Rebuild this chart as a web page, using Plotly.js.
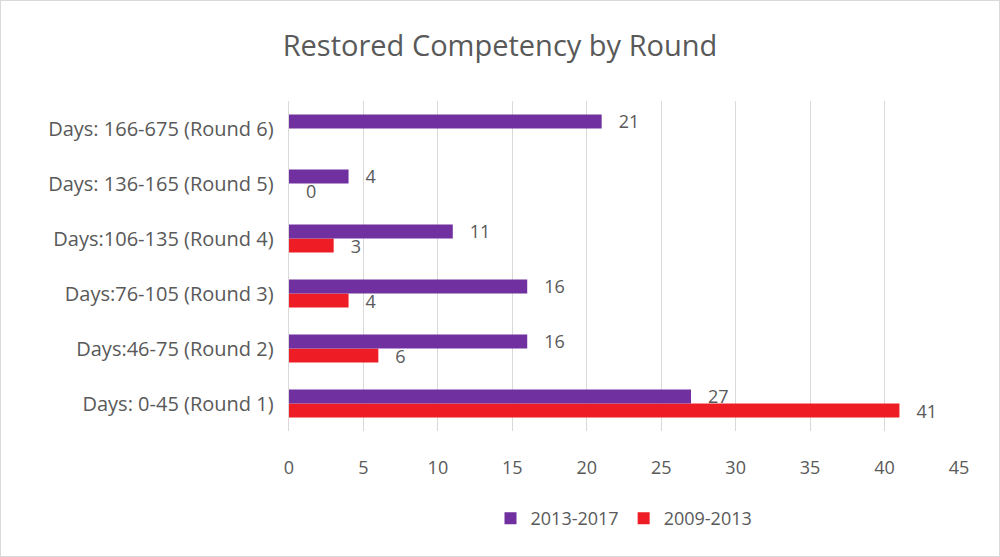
<!DOCTYPE html>
<html><head><script src="https://cdn.plot.ly/plotly-3.0.1.min.js"></script>
<style>body{margin:0}#c{width:998px;height:555px;border:1px solid #D9D9D9}</style></head>
<body><div id="c"></div>
<script>
const categories = ["Days: 0-45 (Round 1)","Days:46-75 (Round 2)","Days:76-105 (Round 3)","Days:106-135 (Round 4)","Days: 136-165 (Round 5)","Days: 166-675 (Round 6)"];
const series2013 = [27,16,16,11,4,21];
const series2009 = [41,6,4,3,0,null];
const txt = a => a.map(v => v === null ? "" : "   " + v);
const f = {family:"Open Sans, sans-serif", color:"#595959"};
Plotly.newPlot("c", [
 {type:"bar", orientation:"h", name:"2009-2013", y:categories, x:series2009, marker:{color:"#EE1C25"},
  text:txt(series2009), textposition:"outside", constraintext:"none", cliponaxis:false, textfont:{...f,size:18}},
 {type:"bar", orientation:"h", name:"2013-2017", y:categories, x:series2013, marker:{color:"#7030A0"},
  text:txt(series2013), textposition:"outside", constraintext:"none", cliponaxis:false, textfont:{...f,size:18}}
], {
 width:998, height:555, margin:{l:288, r:40, t:100, b:125},
 paper_bgcolor:"#fff", plot_bgcolor:"#fff",
 title:{text:"Restored Competency by Round", x:0.5, xanchor:"center", y:0.92, yanchor:"middle", font:{...f,size:29}},
 barmode:"group", bargap:0.49, bargroupgap:0,
 xaxis:{range:[0,45], dtick:5, showgrid:true, gridcolor:"#D9D9D9", zeroline:false,
   tickfont:{...f,size:18}, ticks:"outside", ticklen:20, tickcolor:"rgba(0,0,0,0)", showline:false, automargin:false},
 yaxis:{tickfont:{...f,size:20}, ticks:"", ticksuffix:"  ", showline:true, linecolor:"#D9D9D9", automargin:false},
 showlegend:true,
 legend:{orientation:"h", x:0.5, xanchor:"center", y:-0.265, yanchor:"middle", traceorder:"reversed", font:{...f,size:18}}
}, {displayModeBar:false});
</script></body></html>
